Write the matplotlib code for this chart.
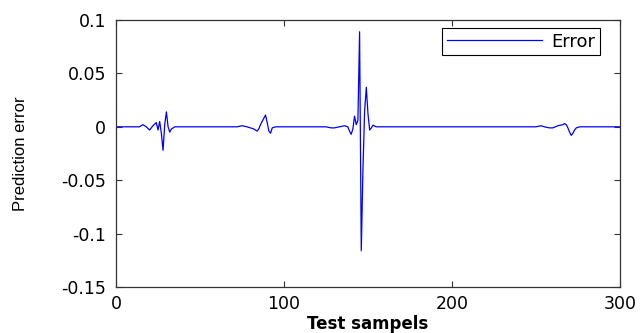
import matplotlib
matplotlib.use('Agg')
import matplotlib.pyplot as plt

# sample index / prediction error (baseline ~0 elsewhere)
samples = [1, 14, 16, 18, 20, 22, 24, 25, 26, 27, 28, 29, 30, 31, 32, 33, 35,
           72, 75, 78, 82, 84, 85, 86, 87, 88, 89, 90, 91, 92, 93, 95,
           125, 128, 130, 133, 136, 138, 139, 140, 141, 142, 143, 144, 145, 146,
           147, 148, 149, 150, 151, 152, 153, 155,
           245, 250, 253, 255, 258, 260, 263, 266, 267, 268, 269, 270, 271, 272,
           273, 274, 276, 300]
errors = [0.0, 0.0, 0.002, 0.0, -0.003, 0.001, 0.004, -0.003, 0.005, -0.006,
          -0.022, 0.002, 0.014, 0.0, -0.005, -0.002, 0.0,
          0.0, 0.001, 0.0, -0.002, -0.004, -0.002, 0.002, 0.005, 0.008, 0.011,
          0.004, -0.004, -0.006, -0.001, 0.0,
          0.0, -0.001, -0.001, 0.0, 0.001, 0.0, -0.004, -0.007, -0.002, 0.010,
          0.002, 0.006, 0.089, -0.116, -0.040, 0.015, 0.037, 0.012, -0.003,
          -0.001, 0.0015, 0.0,
          0.0, 0.0, 0.001, 0.0, -0.001, -0.001, 0.001, 0.002, 0.003, 0.002,
          -0.001, -0.005, -0.008, -0.006, -0.003, -0.001, 0.0, 0.0]
xticks = [0, 100, 200, 300]
yticks = [-0.15, -0.1, -0.05, 0, 0.05, 0.1]
ytick_labels = ['-0.15', '-0.1', '-0.05', '0', '0.05', '0.1']

plt.rcParams['font.family'] = ['DejaVu Sans']

fig = plt.figure(figsize=(6.43, 3.33), dpi=100)
ax = fig.add_axes([0.1804, 0.1381, 0.7838, 0.8018])

ax.plot(samples, errors, color='blue', linewidth=0.9, label='Error')

ax.set_xlim(0, 300)
ax.set_ylim(-0.15, 0.1)
ax.set_xticks(xticks)
ax.set_yticks(yticks)
ax.set_yticklabels(ytick_labels)
ax.tick_params(direction='in', length=4, width=0.8, labelsize=12.5,
               top=True, right=True, color='#333333')
ax.tick_params(axis='y', pad=7)
ax.tick_params(axis='x', pad=6)
for s in ax.spines.values():
    s.set_color('#333333')
    s.set_linewidth(0.9)

ax.set_xlabel('Test sampels', fontsize=12, fontweight='bold', labelpad=1)
ax.set_ylabel('Prediction error', fontsize=12, family='Liberation Sans')
ax.yaxis.set_label_coords(-0.175, 0.5)

leg = ax.legend(loc='upper right', prop={'size': 13}, fancybox=False,
                framealpha=1, edgecolor='black', handlelength=5.3,
                borderpad=0.25, handletextpad=0.5, borderaxespad=0,
                bbox_to_anchor=(0.96, 0.97))
leg.get_frame().set_linewidth(0.8)

fig.savefig('out.png', dpi=100)
